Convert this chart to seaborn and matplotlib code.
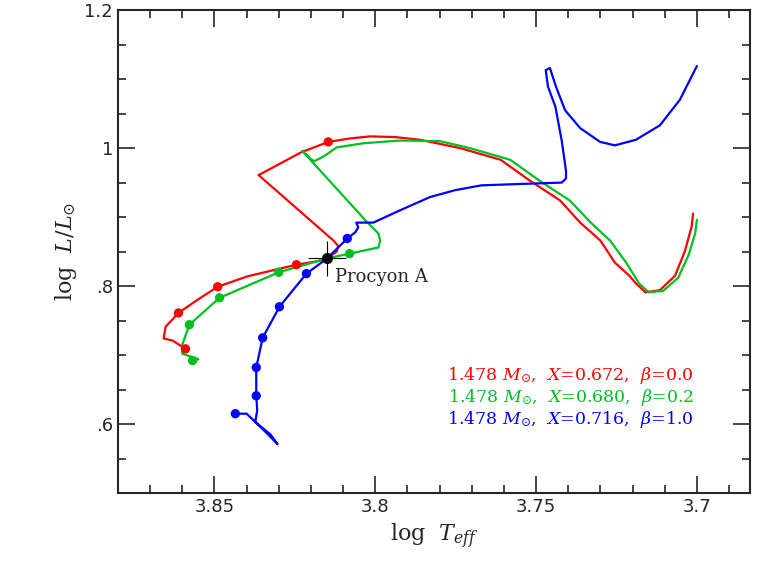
import numpy as np
import pandas as pd
import matplotlib.pyplot as plt
import seaborn as sns

sns.set_style('ticks')
plt.rcParams['mathtext.fontset'] = 'dejavuserif'

# evolutionary tracks (log Teff, log L/Lsun)
red_t = [3.859, 3.863, 3.8658, 3.8652, 3.8612, 3.8553, 3.849, 3.8398, 3.8245, 3.818, 3.815,
         3.812, 3.8115, 3.813, 3.8363, 3.835, 3.823, 3.8146, 3.8078, 3.8016, 3.7938, 3.786,
         3.7736, 3.761, 3.752, 3.7425, 3.7363, 3.730, 3.7255, 3.721, 3.719, 3.716, 3.7115,
         3.7068, 3.7037, 3.7016, 3.7012]
red_l = [0.709, 0.721, 0.724, 0.741, 0.761, 0.780, 0.799, 0.814, 0.831, 0.836, 0.840,
         0.850, 0.858, 0.866, 0.961, 0.964, 0.994, 1.009, 1.014, 1.017, 1.016, 1.012,
         1.000, 0.983, 0.953, 0.924, 0.892, 0.866, 0.834, 0.815, 0.804, 0.791, 0.794,
         0.815, 0.851, 0.887, 0.905]
red_dot_t = [3.859, 3.8612, 3.849, 3.8245, 3.8146]
red_dot_l = [0.709, 0.761, 0.799, 0.831, 1.009]

green_t = [3.8568, 3.855, 3.860, 3.860, 3.8578, 3.8484, 3.830, 3.815, 3.808, 3.799, 3.7985,
           3.799, 3.803, 3.8227, 3.820, 3.819, 3.816, 3.812, 3.8037, 3.7922, 3.7798, 3.7706,
           3.758, 3.749, 3.7395, 3.733, 3.727, 3.722, 3.718, 3.715, 3.7105, 3.7058, 3.7025,
           3.7005, 3.7]
green_l = [0.692, 0.694, 0.702, 0.715, 0.744, 0.783, 0.820, 0.840, 0.847, 0.856, 0.866,
           0.876, 0.895, 0.996, 0.984, 0.981, 0.988, 1.001, 1.007, 1.011, 1.010, 1.000,
           0.983, 0.953, 0.924, 0.892, 0.866, 0.834, 0.804, 0.791, 0.793, 0.812, 0.846,
           0.877, 0.896]
green_dot_t = [3.8568, 3.8578, 3.8484, 3.830, 3.808]
green_dot_l = [0.692, 0.744, 0.783, 0.820, 0.847]

blue_t = [3.8435, 3.840, 3.8373, 3.834, 3.8304, 3.8326, 3.8373, 3.8367, 3.837, 3.837, 3.835,
          3.8298, 3.8214, 3.815, 3.8087, 3.8062, 3.8053, 3.8059, 3.8047, 3.8006, 3.7922,
          3.783, 3.7752, 3.767, 3.755, 3.742, 3.7407, 3.7407, 3.742, 3.744, 3.7463, 3.747,
          3.7457, 3.7438, 3.741, 3.7363, 3.7301, 3.7255, 3.719, 3.7115, 3.7053, 3.700]
blue_l = [0.615, 0.615, 0.603, 0.588, 0.571, 0.585, 0.603, 0.620, 0.641, 0.682, 0.725,
          0.770, 0.818, 0.840, 0.869, 0.878, 0.885, 0.892, 0.892, 0.892, 0.910,
          0.929, 0.939, 0.946, 0.948, 0.950, 0.956, 0.967, 1.010, 1.060, 1.089, 1.113,
          1.116, 1.089, 1.055, 1.029, 1.009, 1.004, 1.012, 1.033, 1.070, 1.119]
blue_dot_t = [3.8435, 3.837, 3.837, 3.835, 3.8298, 3.8214, 3.8087]
blue_dot_l = [0.615, 0.641, 0.682, 0.725, 0.770, 0.818, 0.869]

procyon_t, procyon_l = 3.815, 0.840
procyon_et, procyon_el = 0.006, 0.025

labels = [r'1.478 $M_{\odot}$,  $X$=0.672,  $\beta$=0.0',
          r'1.478 $M_{\odot}$,  $X$=0.680,  $\beta$=0.2',
          r'1.478 $M_{\odot}$,  $X$=0.716,  $\beta$=1.0']
colors = ['#ff0000', '#00c020', '#0000ff']

fig = plt.figure(figsize=(7.61, 5.63), dpi=100)
ax = fig.add_axes([0.155, 0.1243, 0.8305, 0.8577])

tracks = [(red_t, red_l, red_dot_t, red_dot_l),
          (green_t, green_l, green_dot_t, green_dot_l),
          (blue_t, blue_l, blue_dot_t, blue_dot_l)]
for (t, l, dt, dl), c in zip(tracks, colors):
    sns.lineplot(x=t, y=l, sort=False, estimator=None, color=c, lw=1.6, ax=ax)
    sns.scatterplot(x=dt, y=dl, color=c, s=45, edgecolor='none', ax=ax, zorder=3)

ax.errorbar(procyon_t, procyon_l, xerr=procyon_et, yerr=procyon_el, fmt='o', color='black',
            ms=7, lw=0.8, zorder=5)
ax.text(procyon_t - 0.0025, procyon_l - 0.014, 'Procyon A', fontsize=13, family='DejaVu Serif',
        va='top', ha='left')

for i, (lab, c) in enumerate(zip(labels, colors)):
    ax.text(3.701, 0.67 - i * 0.032, lab, color=c, fontsize=12.5, ha='right', va='center',
            family='DejaVu Serif')

ax.set_xlim(3.88, 3.6835)
ax.set_ylim(0.5, 1.2)
ax.set_xticks([3.85, 3.8, 3.75, 3.7])
ax.set_xticklabels(['3.85', '3.8', '3.75', '3.7'])
ax.set_yticks([0.6, 0.8, 1.0, 1.2])
ax.set_yticklabels(['.6', '.8', '1', '1.2'])
ax.set_xticks(np.arange(3.69, 3.881, 0.01), minor=True)
ax.set_yticks(np.arange(0.5, 1.2, 0.05), minor=True)
ax.tick_params(which='both', direction='in', top=True, right=True, labelsize=13, width=1.2)
ax.tick_params(which='major', length=12)
ax.tick_params(which='minor', length=6)
for s in ax.spines.values():
    s.set_linewidth(1.5)
ax.set_xlabel(r'log  $T_{eff}$', fontsize=16, family='DejaVu Serif')
ax.set_ylabel(r'log  $L/L_{\odot}$', fontsize=16, family='DejaVu Serif')

fig.savefig('out.png', dpi=100)
